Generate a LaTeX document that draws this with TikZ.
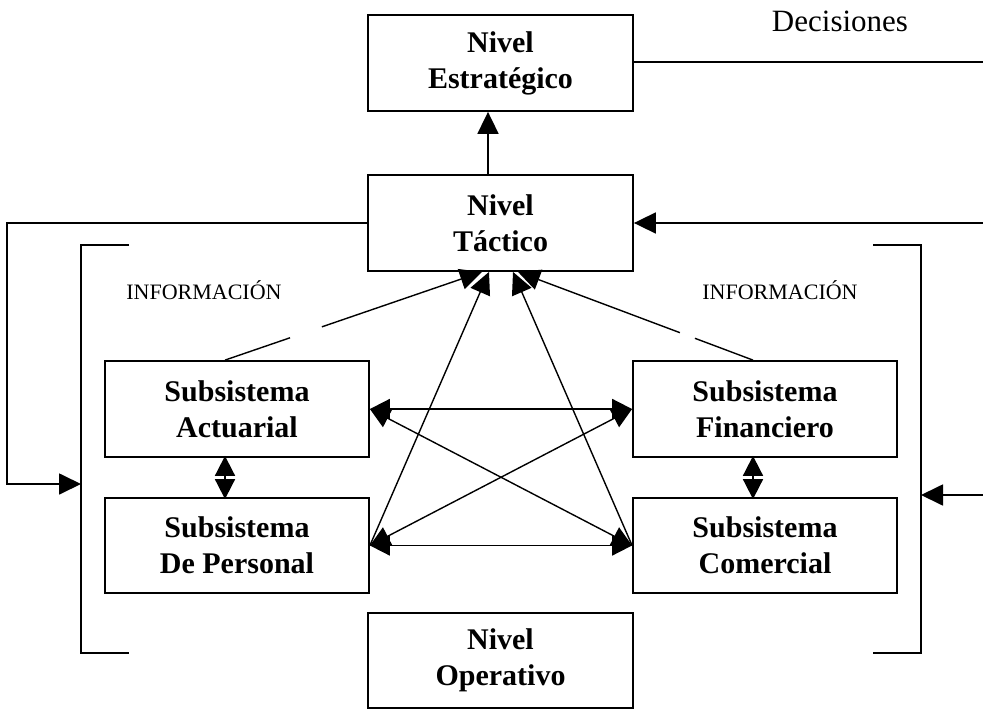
\documentclass[tikz,border=0pt]{standalone}
\usepackage{fontspec}
\setmainfont{Liberation Serif}
\usetikzlibrary{arrows.meta,calc}

\begin{document}
\begin{tikzpicture}[x=1pt,y=-1pt,
  box/.style={draw, line width=1.8pt, minimum width=265pt, minimum height=96pt,
    inner sep=0pt, align=center, font=\fontsize{30}{36}\selectfont\bfseries},
  link/.style={line width=1.8pt},
  thinlink/.style={line width=1.4pt},
  tip/.style={-{Triangle[length=22pt,width=21pt]}},
  tips/.style={{Triangle[length=20pt,width=20pt]}-{Triangle[length=20pt,width=20pt]}},
  lbl/.style={anchor=base, inner sep=0pt}
]
\useasboundingbox (0,0) rectangle (983,709);

% levels and subsystems
\node[box] (E) at (500.5,63) {Nivel\\Estratégico};
\node[box] (T) at (500.5,223) {Nivel\\Táctico};
\node[box, minimum width=264pt] (A) at (237,409) {Subsistema\\Actuarial};
\node[box, minimum width=264pt, minimum height=95pt] (P) at (237,545.5) {Subsistema\\De Personal};
\node[box, minimum width=264pt] (F) at (765,409) {Subsistema\\Financiero};
\node[box, minimum width=264pt, minimum height=95pt] (C) at (765,545.5) {Subsistema\\Comercial};
\node[box, minimum height=95pt] (O) at (500.5,660.5) {Nivel\\Operativo};

% labels
\node[lbl, font=\fontsize{31}{36}\selectfont] (dec) at (840,32) {Decisiones};
\node[lbl, font=\fontsize{22}{26}\selectfont] (infl) at (204,299) {INFORMACIÓN};
\node[lbl, font=\fontsize{22}{26}\selectfont] (infr) at (780,299) {INFORMACIÓN};

% free ends and arrow targets
\coordinate (eo) at (983,62);
\coordinate (rt) at (983,223);
\coordinate (rl) at (983,495);
\coordinate (rb) at (921,495);
\coordinate (lb) at (81,484);
\coordinate (as) at ([xshift=-12pt]A.north);
\coordinate (fs) at ([xshift=-12pt]F.north);
\coordinate (tl1) at ([xshift=-18.5pt]T.south);
\coordinate (tl2) at ([xshift=-11.5pt]T.south);
\coordinate (tr2) at ([xshift=12.5pt]T.south);
\coordinate (tr1) at ([xshift=17.5pt]T.south);

% decisions line and upward flow
\draw[link] (E.east |- eo) -- (eo);
\draw[link,tip] ([xshift=-12.5pt]T.north) -- ([xshift=-12.5pt]E.south);

% feedback loops
\draw[link,tip] (T.west) -- ++(-360,0) |- (lb);
\draw[link,tip] (rt) -- (T.east);
\draw[link,tip] (rl) -- (rb);

% information brackets
\draw[link] (129,245) -- (81,245) -- (81,653) -- (129,653);
\draw[link] (873,245) -- (921,245) -- (921,653) -- (873,653);

% links between subsystems
\draw[link,tips] ([xshift=-12pt,yshift=2pt]A.south) -- ([xshift=-12pt,yshift=-2pt]P.north);
\draw[link,tips] ([xshift=-12pt,yshift=2pt]F.south) -- ([xshift=-12pt,yshift=-2pt]C.north);
\draw[link,tips] (A.east) -- (F.west);
\draw[link,tips] (P.east) -- (C.west);
\draw[thinlink,tips] (A.east) -- (C.west);
\draw[thinlink,tips] (P.east) -- (F.west);

% subsystems reporting to the tactical level
\draw[thinlink,tip] (P.east) -- (tl2);
\draw[thinlink,tip] (C.west) -- (tr2);
\draw[thinlink] (as) -- ($(as)!0.253!(tl1)$);
\draw[thinlink,tip] ($(as)!0.377!(tl1)$) -- (tl1);
\draw[thinlink] (fs) -- ($(fs)!0.247!(tr1)$);
\draw[thinlink,tip] ($(fs)!0.311!(tr1)$) -- (tr1);
\end{tikzpicture}
\end{document}
